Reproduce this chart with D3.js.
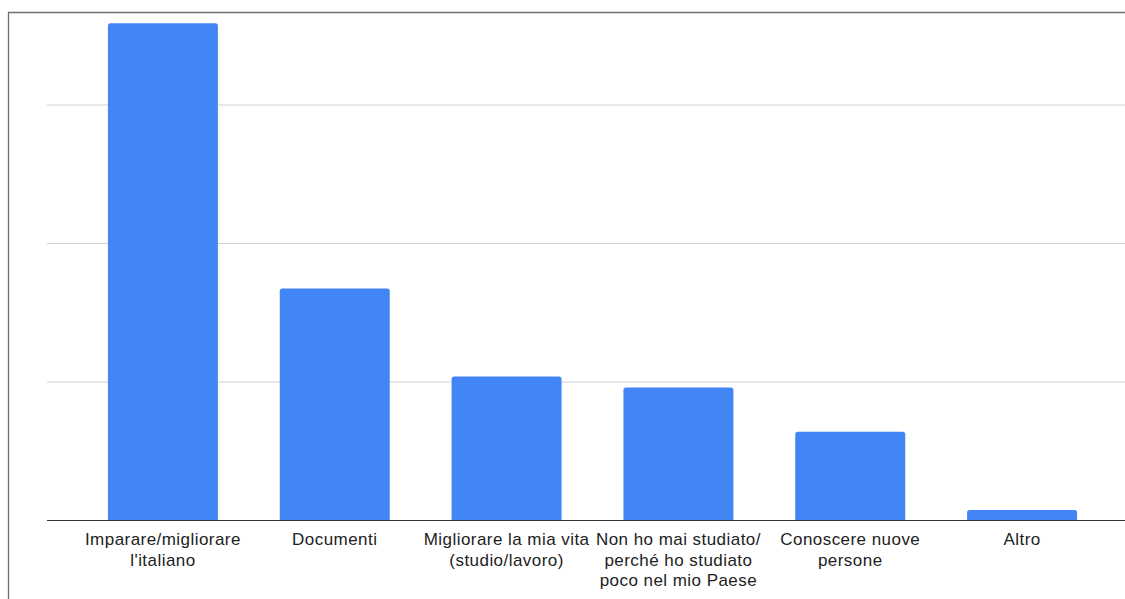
<!DOCTYPE html>
<html>
<head>
<meta charset="utf-8">
<script src="https://cdn.jsdelivr.net/npm/d3@7"></script>
<style>
  body { margin: 0; background: #fff; }
  svg { display: block; font-family: "Liberation Sans", Arial, sans-serif; }
</style>
</head>
<body>
<svg id="mySvg"></svg>
<script>
const categories = [
  "Imparare/migliorare\nl'italiano",
  "Documenti",
  "Migliorare la mia vita\n(studio/lavoro)",
  "Non ho mai studiato/\nperché ho studiato\npoco nel mio Paese",
  "Conoscere nuove\npersone",
  "Altro"
];
const values = [35.9, 16.75, 10.4, 9.6, 6.4, 0.76];
const gridTicks = [10, 20, 30];

const width = 1125;
const height = 599;

const svg = d3.select("#mySvg")
  .attr("width", width)
  .attr("height", height);

const xScale = d3.scaleBand()
  .domain(categories)
  .range([77, 1108])
  .paddingInner(0.36)
  .paddingOuter(0.18);

const yScale = d3.scaleLinear()
  .domain([0, 30])
  .range([520.5, 105]);

// frame
svg.append("path")
  .attr("d", `M8.5,${height} V12.5 H${width}`)
  .attr("fill", "none")
  .attr("stroke", "#6e6e6e")
  .attr("stroke-width", 1.3);

// gridlines
svg.append("g")
  .selectAll("line")
  .data(gridTicks)
  .enter()
  .append("line")
  .attr("x1", 47)
  .attr("x2", width)
  .attr("y1", d => yScale(d))
  .attr("y2", d => yScale(d))
  .attr("stroke", "#d0d0d0")
  .attr("stroke-width", 1);

// bars with rounded top corners
const r = 2.5;
svg.selectAll(".bar")
  .data(values)
  .enter()
  .append("path")
  .attr("class", "bar")
  .attr("fill", "#4285f4")
  .attr("d", (d, i) => {
    const x0 = xScale(categories[i]);
    const x1 = x0 + xScale.bandwidth();
    const y0 = yScale(0);
    const y1 = yScale(d);
    return `M${x0},${y0} V${y1 + r} Q${x0},${y1} ${x0 + r},${y1} H${x1 - r} Q${x1},${y1} ${x1},${y1 + r} V${y0} Z`;
  });

// baseline
svg.append("line")
  .attr("x1", 47)
  .attr("x2", width)
  .attr("y1", yScale(0))
  .attr("y2", yScale(0))
  .attr("stroke", "#333")
  .attr("stroke-width", 1.2);

// category labels
const xAxis = svg.append("g")
  .attr("transform", `translate(0, ${yScale(0)})`)
  .call(d3.axisBottom(xScale).tickSize(0).tickFormat(""));
xAxis.select(".domain").remove();

xAxis.selectAll(".tick")
  .append("text")
  .attr("text-anchor", "middle")
  .attr("fill", "#222")
  .style("font-size", "17px")
  .style("letter-spacing", "0.45px")
  .each(function(d) {
    const lines = d.split("\n");
    d3.select(this).selectAll("tspan")
      .data(lines)
      .enter()
      .append("tspan")
      .attr("x", 0)
      .attr("y", (l, j) => 24.5 + j * 20.5)
      .text(l => l);
  });
</script>
</body>
</html>
